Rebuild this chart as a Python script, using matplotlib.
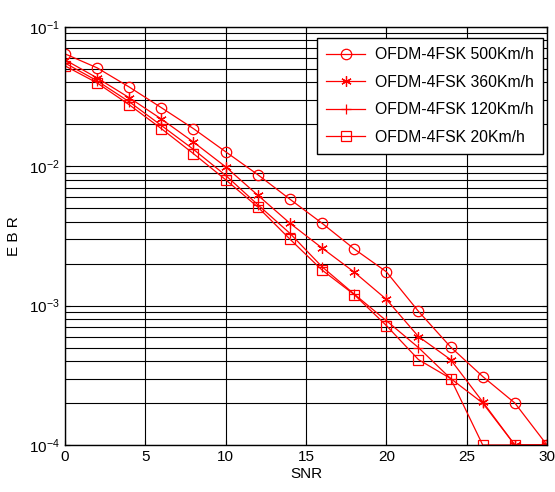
import numpy as np
from matplotlib import pyplot as plt

plt.rcParams['font.family'] = ['Liberation Sans', 'DejaVu Sans']
plt.rcParams['mathtext.default'] = 'regular'

snr = [0, 2, 4, 6, 8, 10, 12, 14, 16, 18, 20, 22, 24, 26, 28, 30]

ebr_500 = [0.064, 0.0508, 0.037, 0.0263, 0.0186, 0.0127, 0.0087, 0.0058, 0.0039,
           0.00255, 0.00175, 0.00091, 0.000505, 0.00031, 0.0002, 0.0001]
ebr_360 = [0.058, 0.043, 0.031, 0.0218, 0.0149, 0.0099, 0.0062, 0.0039, 0.00259,
           0.00174, 0.00111, 0.0006, 0.00041, 0.000204, 0.0001, 0.0001]
ebr_120 = [0.055, 0.041, 0.029, 0.0196, 0.0132, 0.0086, 0.0053, 0.0033, 0.0019,
           0.00121, 0.00078, 0.0005, 0.0003, 0.0002, 0.0001, 0.0001]
ebr_20 = [0.0525, 0.0396, 0.0276, 0.0186, 0.0123, 0.0080, 0.0051, 0.0030, 0.0018,
          0.0012, 0.00072, 0.00041, 0.0003, 0.0001, 0.0001, 0.0001]

series = [
    (ebr_500, 'o', 'OFDM-4FSK 500Km/h'),
    (ebr_360, (6, 2, 0), 'OFDM-4FSK 360Km/h'),  # matlab style asterisk
    (ebr_120, '+', 'OFDM-4FSK 120Km/h'),
    (ebr_20, 's', 'OFDM-4FSK 20Km/h'),
]

fig = plt.figure(figsize=(5.55, 4.92), dpi=100)
ax = fig.add_axes([0.117, 0.0955, 0.8686, 0.85])

for vals, mk, lab in series:
    ax.semilogy(snr, vals, color='red', linewidth=0.9, marker=mk, markersize=7.5,
                markerfacecolor='none', markeredgecolor='red', markeredgewidth=0.9,
                label=lab)

ax.set_xlim(0, 30)
ax.set_ylim(1e-4, 1e-1)
ax.set_xticks([0, 5, 10, 15, 20, 25, 30])
ax.grid(True, which='major', color='black', linewidth=0.8)
ax.grid(True, which='minor', axis='y', color='black', linewidth=0.8)
ax.tick_params(which='both', direction='in', top=True, right=True, labelsize=11)
for s in ax.spines.values():
    s.set_linewidth(1.0)

ax.set_xlabel('SNR', fontsize=11, labelpad=2)
ax.set_ylabel('E B R', fontsize=11, labelpad=6)

leg = ax.legend(loc='upper right', bbox_to_anchor=(0.992, 0.974), fontsize=11.3,
                fancybox=False, framealpha=1, edgecolor='black', borderpad=0.6,
                labelspacing=0.8, handlelength=2.5, handletextpad=0.6,
                borderaxespad=0.0)
leg.get_frame().set_linewidth(1.0)

fig.savefig('out.png', dpi=100)
